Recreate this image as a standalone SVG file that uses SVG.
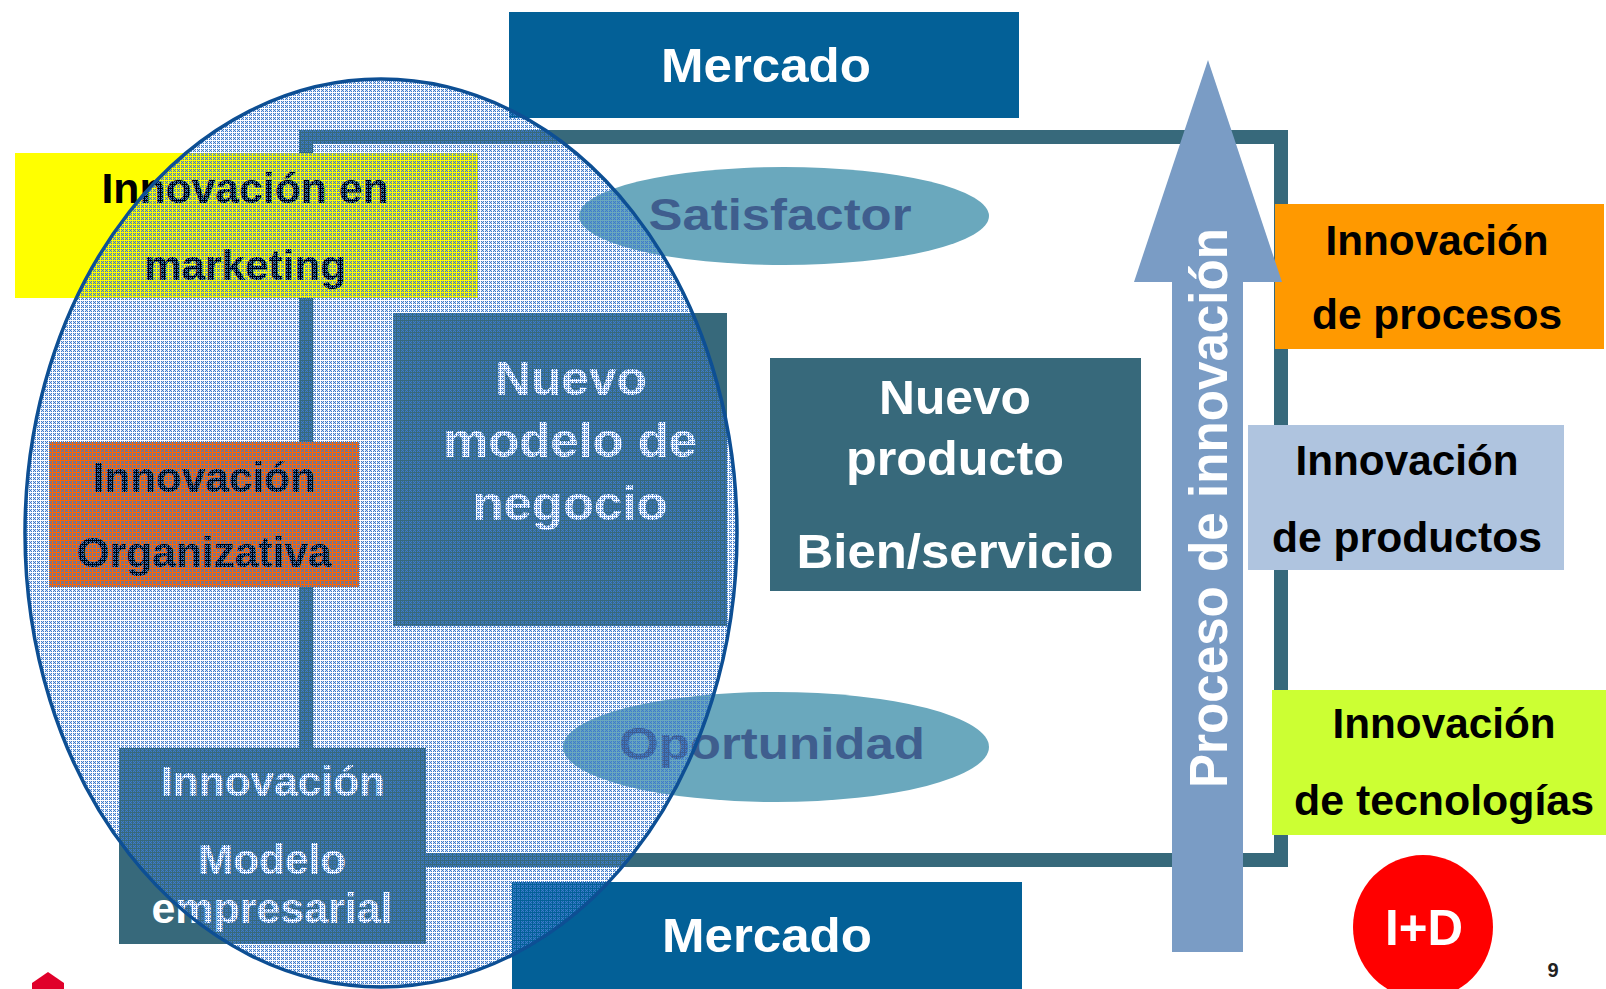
<svg xmlns="http://www.w3.org/2000/svg" width="1606" height="989" viewBox="0 0 1606 989">
<defs>
<pattern id="dots" patternUnits="userSpaceOnUse" width="4" height="4" shape-rendering="crispEdges">
<rect x="1" y="1" width="1" height="1" fill="#3d7acc"/>
<rect x="3" y="1" width="1" height="1" fill="#3d7acc"/>
<rect x="2" y="2" width="1" height="1" fill="#3d7acc"/>
<rect x="1" y="3" width="1" height="1" fill="#3d7acc"/>
<rect x="3" y="3" width="1" height="1" fill="#3d7acc"/>
<rect x="2" y="1" width="1" height="1" fill="#3d7acc" fill-opacity="0.25"/>
<rect x="1" y="2" width="1" height="1" fill="#3d7acc" fill-opacity="0.25"/>
<rect x="3" y="2" width="1" height="1" fill="#3d7acc" fill-opacity="0.25"/>
<rect x="2" y="3" width="1" height="1" fill="#3d7acc" fill-opacity="0.25"/>
</pattern>
</defs>
<style>
text{font-family:"Liberation Sans",Arial,Helvetica,sans-serif;font-weight:bold;text-anchor:middle}
.w{fill:#ffffff}
.k{fill:#000000;font-size:42px}
.wk{fill:#ffffff;font-size:42px}
.big{font-size:48px}
.teal{fill:#37697b}
.frame{fill:#37697b}
.sat{fill:#6aa8bd}
.satt{fill:#3f5e8e;font-size:44px}
.merc{fill:#036097}
</style>
<rect width="1606" height="989" fill="#ffffff"/>

<g id="mercado-top">
<rect class="merc" x="509" y="12" width="510" height="106"/>
<text class="w big" x="766" y="82" font-size="49" textLength="210" lengthAdjust="spacingAndGlyphs">Mercado</text>
</g>

<g id="connectors">
<rect class="frame" x="299" y="130" width="989" height="14"/>
<rect class="frame" x="1274" y="130" width="14" height="737"/>
<rect class="frame" x="420" y="853" width="868" height="14"/>
<rect class="frame" x="299" y="130" width="14" height="620"/>
</g>

<g id="satisfactor">
<ellipse class="sat" cx="784" cy="216" rx="205" ry="49"/>
<text class="satt" x="780" y="230" textLength="263" lengthAdjust="spacingAndGlyphs">Satisfactor</text>
</g>

<g id="oportunidad">
<ellipse class="sat" cx="776" cy="747" rx="213" ry="55"/>
<text class="satt" x="772" y="759" textLength="306" lengthAdjust="spacingAndGlyphs">Oportunidad</text>
</g>

<g id="nuevo-modelo">
<rect class="teal" x="393" y="313" width="334" height="313"/>
<text class="w big" x="571" y="395" textLength="152" lengthAdjust="spacingAndGlyphs">Nuevo</text>
<text class="w big" x="570" y="457" textLength="254" lengthAdjust="spacingAndGlyphs">modelo de</text>
<text class="w big" x="570" y="520" textLength="195" lengthAdjust="spacingAndGlyphs">negocio</text>
</g>

<g id="nuevo-producto">
<rect class="teal" x="770" y="358" width="371" height="233"/>
<text class="w big" x="955" y="414" textLength="152" lengthAdjust="spacingAndGlyphs">Nuevo</text>
<text class="w big" x="955" y="475" textLength="218" lengthAdjust="spacingAndGlyphs">producto</text>
<text class="w big" x="955" y="568" textLength="317" lengthAdjust="spacingAndGlyphs">Bien/servicio</text>
</g>

<g id="innovacion-marketing">
<rect x="15" y="153" width="463" height="145" fill="#ffff00"/>
<text class="k" x="245" y="203" textLength="287" lengthAdjust="spacingAndGlyphs">Innovación en</text>
<text class="k" x="245" y="280" textLength="202" lengthAdjust="spacingAndGlyphs">marketing</text>
</g>

<g id="innovacion-organizativa">
<rect x="49" y="442" width="310" height="145" fill="#ff6600"/>
<text class="k" x="204" y="492" textLength="223" lengthAdjust="spacingAndGlyphs">Innovación</text>
<text class="k" x="204" y="567" textLength="255" lengthAdjust="spacingAndGlyphs">Organizativa</text>
</g>

<g id="innovacion-modelo">
<rect class="teal" x="119" y="748" width="307" height="196"/>
<text class="wk" x="273" y="796" textLength="224" lengthAdjust="spacingAndGlyphs">Innovación</text>
<text class="wk" x="272" y="874" textLength="148" lengthAdjust="spacingAndGlyphs">Modelo</text>
<text class="wk" x="272" y="923" textLength="241" lengthAdjust="spacingAndGlyphs">empresarial</text>
</g>

<g id="innovacion-procesos">
<rect x="1275" y="204" width="329" height="145" fill="#ff9900"/>
<text class="k" x="1437" y="255" textLength="223" lengthAdjust="spacingAndGlyphs">Innovación</text>
<text class="k" x="1437" y="329" textLength="250" lengthAdjust="spacingAndGlyphs">de procesos</text>
</g>

<g id="innovacion-productos">
<rect x="1248" y="425" width="316" height="145" fill="#afc4df"/>
<text class="k" x="1407" y="475" textLength="223" lengthAdjust="spacingAndGlyphs">Innovación</text>
<text class="k" x="1407" y="552" textLength="270" lengthAdjust="spacingAndGlyphs">de productos</text>
</g>

<g id="innovacion-tecnologias">
<rect x="1272" y="690" width="334" height="145" fill="#ccff33"/>
<text class="k" x="1444" y="738" textLength="223" lengthAdjust="spacingAndGlyphs">Innovación</text>
<text class="k" x="1444" y="815" textLength="300" lengthAdjust="spacingAndGlyphs">de tecnologías</text>
</g>

<g id="proceso-innovacion">
<polygon points="1208,60 1282,282 1243,282 1243,952 1172,952 1172,282 1134,282" fill="#7a9cc5"/>
<text class="w" font-size="54" transform="translate(1227,508) rotate(-90)" x="0" y="0" textLength="560" lengthAdjust="spacingAndGlyphs">Proceso de innovación</text>
</g>

<g id="mercado-bottom">
<rect class="merc" x="512" y="882" width="510" height="107"/>
<text class="w" font-size="49" x="767" y="952" textLength="210" lengthAdjust="spacingAndGlyphs">Mercado</text>
</g>

<g id="i-d">
<ellipse cx="1423" cy="927" rx="70" ry="72" fill="#ff0000"/>
<text class="w" font-size="50" x="1424" y="945" textLength="78" lengthAdjust="spacingAndGlyphs">I+D</text>
</g>

<g id="page-number">
<text x="1553" y="977" font-size="20" fill="#222222">9</text>
</g>

<g id="logo">
<polygon points="32,989 32,983 48,972 64,983 64,989" fill="#e0002a"/>
</g>

<g id="organizacion-elipse">
<ellipse cx="381" cy="533" rx="356" ry="454" fill="url(#dots)" stroke="#0d4f94" stroke-width="3.5"/>
</g>
</svg>
